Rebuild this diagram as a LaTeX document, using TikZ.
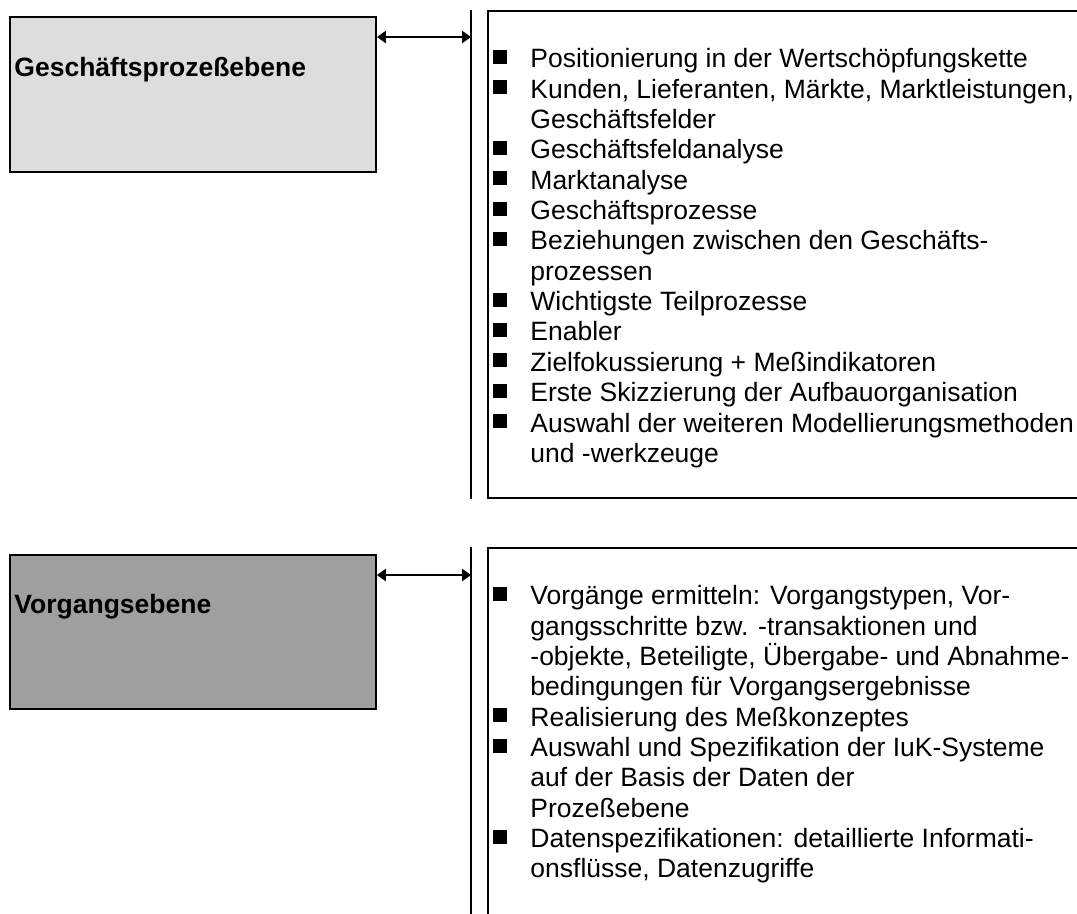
\documentclass[tikz,border=0pt]{standalone}
\usepackage{fontspec}
\setmainfont{Liberation Sans}
\usepackage{tikz}
\usetikzlibrary{arrows.meta, positioning}
\usepackage{xcolor}
\definecolor{hellgrau}{HTML}{DDDDDD}
\definecolor{dunkelgrau}{HTML}{9F9F9F}
\newcommand{\kasten}{\makebox[16.75pt][l]{\raisebox{1.8pt}{\rule{6.3pt}{6.3pt}}}}
\newcommand{\einr}{\hspace*{16.75pt}}

\begin{document}
\begin{tikzpicture}[
    x=0.4528pt, y=-0.4528pt,
    ebene/.style = {rectangle, draw=black, line width=0.9pt, minimum width=165.7pt, minimum height=70pt, inner sep=0pt},
    titel/.style = {anchor=west, inner sep=0pt, font=\fontsize{12}{13.6}\selectfont\bfseries},
    liste/.style = {anchor=north west, inner sep=0pt, align=left, font=\fontsize{12}{13.75}\selectfont},
    rahmen/.style = {draw=black, line width=0.6pt},
    trenner/.style = {draw=black, line width=0.7pt},
    pfeil/.style = {draw=black, line width=0.6pt, {Triangle[length=4pt,width=5.5pt]}-{Triangle[length=4pt,width=5.5pt]}}
]
\clip (0,0) rectangle (1077,913);

% Geschaeftsprozessebene
\node (geschaeft) [ebene, fill=hellgrau] at (193,94.5) {};
\node (geschaeftT) [titel] at (14,70) {Geschäftsprozeßebene};
\coordinate (t1o) at (471,10);
\coordinate (t1u) at (471,499);
\draw [trenner] (t1o) -- (t1u);
\coordinate (p1) at (471,37);
\draw [pfeil] (p1 -| geschaeft.east) -- (p1);
\draw [rahmen] (1100,11) -| (488,498) -- (1100,498);
\node (liste1) [liste] at (493,48) {%
\kasten Positionierung in der Wertschöpfungskette\\
\kasten Kunden, Lieferanten, Märkte, Marktleistungen,\\
\einr Geschäftsfelder\\
\kasten Geschäftsfeldanalyse\\
\kasten Marktanalyse\\
\kasten Geschäftsprozesse\\
\kasten Beziehungen zwischen den Geschäfts-\\
\einr prozessen\\
\kasten Wichtigste Teilprozesse\\
\kasten Enabler\\
\kasten Zielfokussierung + Meßindikatoren\\
\kasten Erste Skizzierung der Aufbauorganisation\\
\kasten Auswahl der weiteren Modellierungsmethoden\\
\einr und -werkzeuge};

% Vorgangsebene
\node (vorgang) [ebene, fill=dunkelgrau] at (193,632) {};
\node (vorgangT) [titel] at (14,607) {Vorgangsebene};
\coordinate (t2o) at (471,547);
\coordinate (t2u) at (471,920);
\draw [trenner] (t2o) -- (t2u);
\coordinate (p2) at (471,575);
\draw [pfeil] (p2 -| vorgang.east) -- (p2);
\draw [rahmen] (1100,548) -| (488,920);
\node (liste2) [liste] at (493,585) {%
\kasten Vorgänge ermitteln: Vorgangstypen, Vor-\\
\einr gangsschritte bzw. -transaktionen und\\
\einr -objekte, Beteiligte, Übergabe- und Abnahme-\\
\einr bedingungen für Vorgangsergebnisse\\
\kasten Realisierung des Meßkonzeptes\\
\kasten Auswahl und Spezifikation der IuK-Systeme\\
\einr auf der Basis der Daten der\\
\einr Prozeßebene\\
\kasten Datenspezifikationen: detaillierte Informati-\\
\einr onsflüsse, Datenzugriffe};

\end{tikzpicture}
\end{document}
